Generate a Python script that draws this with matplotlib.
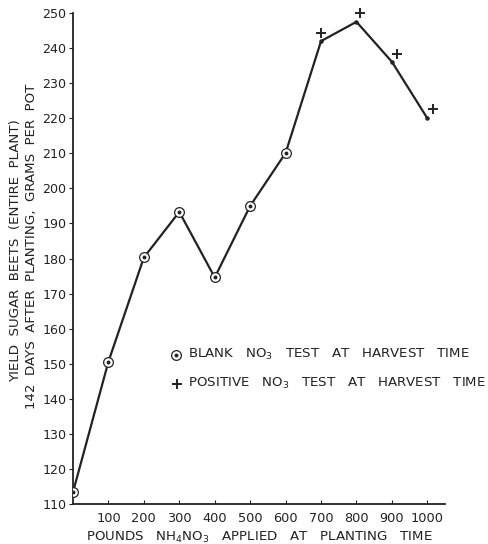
import matplotlib
matplotlib.use("Agg")
import matplotlib.pyplot as plt

# Data
nh4no3 = [0, 100, 200, 300, 400, 500, 600, 700, 800, 900, 1000]
yield_g = [113.4, 150.6, 180.3, 193.3, 174.6, 195.0, 210.1, 242.0, 247.5, 236.1, 220.0]
blank_x = [0, 100, 200, 300, 400, 500, 600]
blank_y = [113.4, 150.6, 180.3, 193.3, 174.6, 195.0, 210.1]
pos_x = [700, 810, 915, 1015]
pos_y = [244.4, 249.9, 238.2, 222.5]
x_ticks = [100, 200, 300, 400, 500, 600, 700, 800, 900, 1000]
y_ticks = [110, 120, 130, 140, 150, 160, 170, 180, 190, 200, 210, 220, 230, 240, 250]

ink = "#222222"
plt.rcParams['font.family'] = ['DejaVu Sans']

fig = plt.figure(figsize=(4.88, 5.44), dpi=100)
ax = fig.add_axes([0.1496, 0.0735, 0.912 - 0.1496, 0.976 - 0.0735])

ax.plot(nh4no3, yield_g, color=ink, lw=1.6, zorder=2)
ax.plot(nh4no3[7:], yield_g[7:], 'o', color=ink, ms=2.2, zorder=3)
ax.plot(blank_x, blank_y, 'o', mfc='white', mec=ink, mew=0.9, ms=7, zorder=3)
ax.plot(blank_x, blank_y, 'o', color=ink, ms=1.8, zorder=4)
ax.plot(pos_x, pos_y, '+', color=ink, ms=7, mew=1.4, zorder=3, clip_on=False)

# legend-like annotations
ax.plot([290], [152.6], 'o', mfc='white', mec=ink, mew=0.9, ms=7)
ax.plot([290], [152.6], 'o', color=ink, ms=1.8)
ax.plot([294], [144.3], '+', color=ink, ms=7, mew=1.4)
fs = 9.6
ax.text(324, 152.6, r'BLANK   NO$_3$   TEST   AT   HARVEST   TIME', fontsize=fs,
        color=ink, va='center', ha='left')
ax.text(325, 144.3, r'POSITIVE   NO$_3$   TEST   AT   HARVEST   TIME', fontsize=fs,
        color=ink, va='center', ha='left', clip_on=False)

ax.set_xlim(0, 1050)
ax.set_ylim(110, 250)
ax.set_xticks(x_ticks)
ax.set_xticklabels([str(v) for v in x_ticks])
ax.set_yticks(y_ticks)
ax.set_yticklabels([str(v) for v in y_ticks])
ax.tick_params(axis='x', direction='in', length=3, width=0.8, colors=ink,
               labelsize=9.3, pad=6)
ax.tick_params(axis='y', direction='out', length=3, width=0.8, colors=ink,
               labelsize=9.1, pad=2)
for s in ['top', 'right']:
    ax.spines[s].set_visible(False)
for s in ['left', 'bottom']:
    ax.spines[s].set_color(ink)
    ax.spines[s].set_linewidth(1.3)

ax.set_xlabel(r'POUNDS   NH$_4$NO$_3$   APPLIED   AT   PLANTING   TIME',
              fontsize=fs, color=ink, labelpad=3)
fig.text(0.031, 0.539, 'YIELD  SUGAR  BEETS  (ENTIRE  PLANT)', rotation=90,
         ha='center', va='center', fontsize=fs, color=ink)
fig.text(0.064, 0.548, '142  DAYS  AFTER  PLANTING,  GRAMS  PER  POT', rotation=90,
         ha='center', va='center', fontsize=fs, color=ink)

fig.savefig('out.png', dpi=100)
